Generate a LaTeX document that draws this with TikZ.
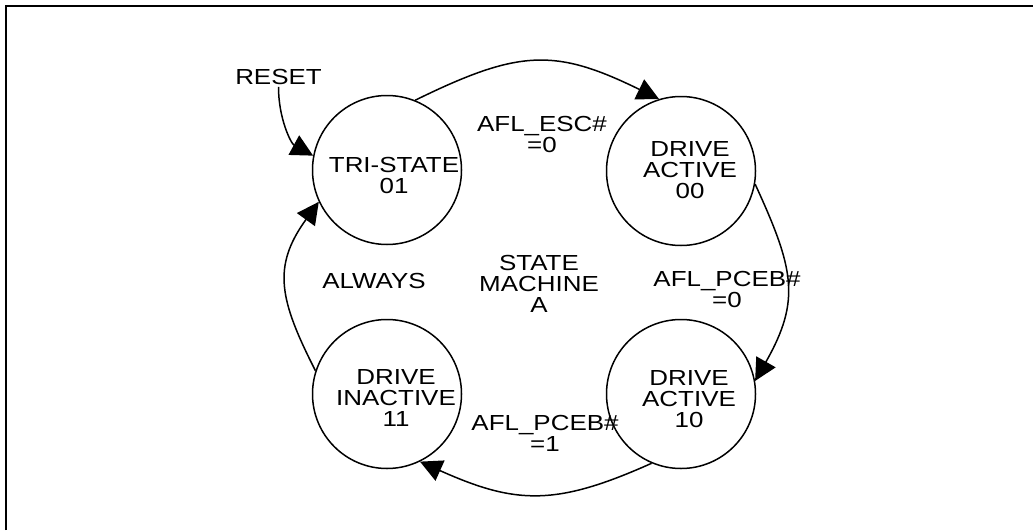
\documentclass[tikz,border=0pt]{standalone}
\usepackage{fontspec}
\setmainfont[FakeStretch=1.19]{Liberation Sans}
\usetikzlibrary{arrows.meta,calc}
\begin{document}
\begin{tikzpicture}[x=1pt,y=-1pt,
  state/.style={circle,draw,line width=1.5pt,minimum size=149pt,inner sep=0pt},
  lbl/.style={font=\fontsize{21.8pt}{21pt}\selectfont,align=center,inner sep=2pt},
  edge/.style={line width=1.5pt,-{Triangle[length=22pt,width=22pt]}},
  frame/.style={line width=2pt}]
\useasboundingbox (0,0) rectangle (1033,530);
\draw[frame] (6,530) -- (6,6) -- (1033,6);
% states
\node[state] (ts) at (387,170) {};
\node[state] (da) at (681,171) {};
\node[state] (db) at (681,394) {};
\node[state] (di) at (387,394) {};
% state texts
\node[lbl] (tst) at (394,175.5) {TRI-STATE\\01};
\node[lbl] (dat) at (690,170.5) {DRIVE\\ACTIVE\\00};
\node[lbl] (dbt) at (689,399) {DRIVE\\ACTIVE\\10};
\node[lbl] (dit) at (396,398) {DRIVE\\INACTIVE\\11};
% other texts
\node[lbl] (reset) at (278.5,77) {RESET};
\node[lbl] (esc) at (542,134.5) {AFL\_ESC\#\\=0};
\node[lbl] (pceb0) at (727,289.5) {AFL\_PCEB\#\\=0};
\node[lbl] (pceb1) at (545,433) {AFL\_PCEB\#\\=1};
\node[lbl] (sm) at (539,283.5) {STATE\\MACHINE\\A};
\node[lbl] (always) at (374,281) {ALWAYS};
% transitions
\draw[edge] (reset.south) .. controls ($(reset.south)+(0,32)$) and ($(ts.169.5)+(-22,-12)$) .. (ts.169.5);
\draw[edge] (ts.68) .. controls ($(ts.68)+(104,-51)$) and ($(da.107)+(-104,-51)$) .. (da.107);
\draw[edge] (da.-10) .. controls ($(da.-10)+(39,85)$) and ($(db.10)+(46,-81)$) .. (db.10);
\draw[edge] (db.-113) .. controls ($(db.-113)+(-96,43)$) and ($(di.-64)+(96,43)$) .. (di.-64);
\draw[edge] (di.162) .. controls ($(di.162)+(-36,-71)$) and ($(ts.-155)+(-47,65)$) .. (ts.-155);
\end{tikzpicture}
\end{document}
